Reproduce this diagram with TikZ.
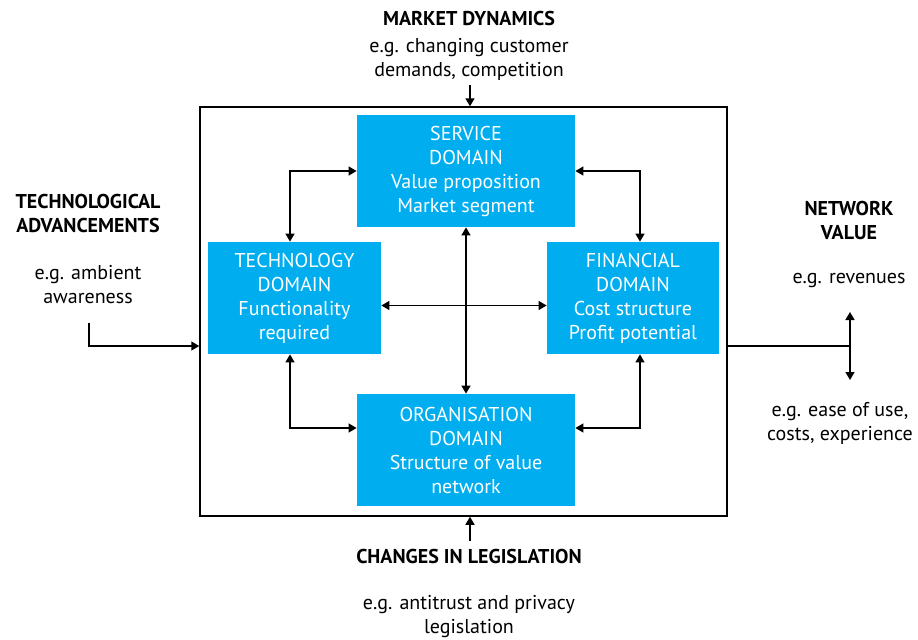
\documentclass[tikz,border=0pt]{standalone}
\usepackage{fontspec}
\setmainfont{PT Sans}
\usetikzlibrary{arrows.meta}
\definecolor{domainblue}{RGB}{0,174,239}

\tikzset{
  domainbox/.style={fill=domainblue, text=white, align=center, inner sep=0pt,
    font=\fontsize{10}{12}\selectfont},
  notetext/.style={align=center, inner sep=0pt, font=\fontsize{10}{12}\selectfont},
  headtext/.style={notetext, font=\fontsize{10}{12}\selectfont\bfseries},
  arr/.style={line width=0.75pt, -{Triangle[length=4pt,width=4.5pt]}},
  biarr/.style={line width=0.75pt, {Triangle[length=4pt,width=4.5pt]}-{Triangle[length=4pt,width=4.5pt]}},
}

\begin{document}
\begin{tikzpicture}[x=0.5pt,y=-0.5pt]
  \useasboundingbox (0,0) rectangle (918,639);

  % frame and domains
  \node (frame) [draw, line width=0.75pt, minimum width=263.5pt, minimum height=204.5pt] at (463.5,311.5) {};
  \node (service) [domainbox, minimum width=109pt, minimum height=56pt] at (466,171)
    {SERVICE\\DOMAIN\\Value proposition\\Market segment};
  \node (tech) [domainbox, minimum width=86.5pt, minimum height=56pt] at (294.5,298)
    {TECHNOLOGY\\DOMAIN\\Functionality\\required};
  \node (fin) [domainbox, minimum width=86pt, minimum height=56pt] at (633,298)
    {FINANCIAL\\DOMAIN\\Cost structure\\Profit potential};
  \node (org) [domainbox, minimum width=109pt, minimum height=56pt] at (466,450)
    {ORGANISATION\\DOMAIN\\Structure of value\\network};

  % links between domains
  \coordinate (ts) at (290,171);
  \coordinate (sf) at (640,171);
  \coordinate (to) at (290,428);
  \coordinate (fo) at (640,428);
  \draw[biarr] (ts |- tech.north) -- (ts) -- (ts -| service.west);
  \draw[biarr] (sf -| service.east) -- (sf) -- (sf |- fin.north);
  \draw[biarr] (to |- tech.south) -- (to) -- (to -| org.west);
  \draw[biarr] (fo |- fin.south) -- (fo) -- (fo -| org.east);
  \draw[biarr] (service.south) -- (org.north);
  \draw[biarr] ([yshift=-3.75pt]tech.east) -- ([yshift=-3.75pt]fin.west);

  % market dynamics
  \node (mdhead) [headtext] at (469,18) {MARKET DYNAMICS};
  \node (mdtext) [notetext] at (469,59) {e.g. changing customer\\demands, competition};
  \coordinate (mdin) at (470,85);
  \draw[arr] (mdin) -- (mdin |- frame.north);

  % changes in legislation
  \node (lghead) [headtext] at (469,556) {CHANGES IN LEGISLATION};
  \node (lgtext) [notetext] at (469,617) {e.g. antitrust and privacy\\legislation};
  \coordinate (lgin) at (470,541);
  \draw[arr] (lgin) -- (lgin |- frame.south);

  % technological advancements
  \node (tahead) [headtext] at (88,213) {TECHNOLOGICAL\\ADVANCEMENTS};
  \node (tatext) [notetext] at (88,285) {e.g. ambient\\awareness};
  \coordinate (tain) at (89,323);
  \coordinate (taturn) at (89,346);
  \draw[arr] (tain) -- (taturn) -- (taturn -| frame.west);

  % network value
  \node (nvhead) [headtext] at (849,220) {NETWORK\\VALUE};
  \node (nvup) [notetext] at (849,280) {e.g. revenues};
  \node (nvdown) [notetext] at (840,423) {e.g. ease of use,\\costs, experience};
  \coordinate (nvmid) at (850,346);
  \coordinate (nvtop) at (850,312);
  \coordinate (nvbot) at (850,380);
  \draw[line width=0.75pt] (nvmid -| frame.east) -- (nvmid);
  \draw[biarr] (nvtop) -- (nvbot);
\end{tikzpicture}
\end{document}
